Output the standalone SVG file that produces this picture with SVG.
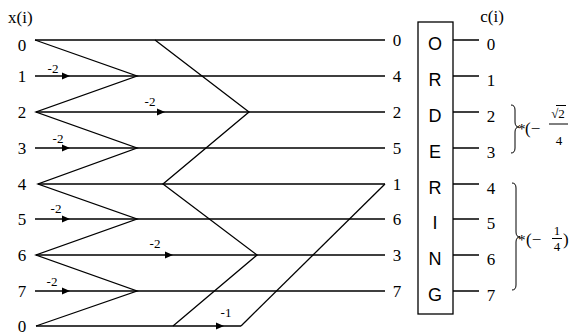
<svg xmlns="http://www.w3.org/2000/svg" width="574" height="335" viewBox="0 0 574 335">
<style>
.ln{fill:none;stroke:#000;stroke-width:1.3;stroke-linejoin:miter}
.t{font-family:"Liberation Serif","Times New Roman",serif;font-size:17px;fill:#000;text-anchor:middle}
.m{font-family:"Liberation Serif","Times New Roman",serif;font-size:17px;fill:#000}
.s{font-family:"Liberation Serif","Times New Roman",serif;font-size:13px;fill:#000;text-anchor:middle}
.a{font-family:"Liberation Serif","Times New Roman",serif;font-size:15px;fill:#000}
.f{font-family:"Liberation Serif","Times New Roman",serif;font-size:13px;fill:#000;text-anchor:middle}
.o{font-family:"Liberation Sans",Arial,sans-serif;font-size:18px;fill:#000;text-anchor:middle}
.br{fill:none;stroke:#000;stroke-width:1}
</style>
<defs>
<path id="ah" d="M0,0 L-8,-3.6 L-8,3.6 Z" fill="#000"/>
</defs>
<rect width="574" height="335" fill="#fff"/>
<g id="input-labels">
<text x="8" y="23" class="m">x(i)</text>
<text x="22" y="51" class="t">0</text>
<text x="22" y="82" class="t">1</text>
<text x="22" y="118" class="t">2</text>
<text x="22" y="154" class="t">3</text>
<text x="22" y="190" class="t">4</text>
<text x="22" y="225" class="t">5</text>
<text x="22" y="261" class="t">6</text>
<text x="22" y="297" class="t">7</text>
<text x="22" y="332" class="t">0</text>
</g>
<g id="connectors">
<path class="ln" d="M35,40 H385 M35,76 H385 M36,112 H385 M35,148 H385 M38,184 H385 M35,219 H385 M36,255 H385 M35,291 H385 M36,326 H241"/>
<path class="ln" d="M35,40 L137,76 L36,112 L137,148 L38,184 L137,219 L36,255 L137,291 L36,326"/>
<path class="ln" d="M155,40 L249,112 L163,184 L257,255 L173,326"/>
<path class="ln" d="M241,326 L385,184"/>
<use href="#ah" x="70" y="76"/>
<use href="#ah" x="165" y="112"/>
<use href="#ah" x="70" y="148"/>
<use href="#ah" x="70" y="219"/>
<use href="#ah" x="173" y="255"/>
<use href="#ah" x="70" y="291"/>
<use href="#ah" x="224" y="326"/>
<path class="ln" d="M453,40 H479 M453,76 H479 M453,112 H479 M453,148 H479 M453,184 H479 M453,219 H479 M453,255 H479 M453,291 H479"/>
</g>
<g id="weights">
<text x="53" y="73" class="s">-2</text>
<text x="150" y="106" class="s">-2</text>
<text x="58" y="143" class="s">-2</text>
<text x="56" y="213" class="s">-2</text>
<text x="155" y="248" class="s">-2</text>
<text x="52" y="286" class="s">-2</text>
<text x="226" y="317" class="s">-1</text>
</g>
<g id="stage-outputs">
<text x="397" y="46" class="t">0</text>
<text x="397" y="82" class="t">4</text>
<text x="397" y="118" class="t">2</text>
<text x="397" y="154" class="t">5</text>
<text x="397" y="190" class="t">1</text>
<text x="397" y="225" class="t">6</text>
<text x="397" y="261" class="t">3</text>
<text x="397" y="297" class="t">7</text>
</g>
<g id="ordering">
<rect x="418" y="22" width="35" height="292" fill="none" stroke="#000" stroke-width="1.3"/>
<text x="435" y="50" class="o">O</text>
<text x="435" y="86" class="o">R</text>
<text x="435" y="122" class="o">D</text>
<text x="435" y="158" class="o">E</text>
<text x="435" y="194" class="o">R</text>
<text x="435" y="229" class="o">I</text>
<text x="435" y="265" class="o">N</text>
<text x="435" y="301" class="o">G</text>
</g>
<g id="outputs">
<text x="492" y="22" class="t">c(i)</text>
<text x="491" y="50" class="t">0</text>
<text x="491" y="86" class="t">1</text>
<text x="491" y="122" class="t">2</text>
<text x="491" y="158" class="t">3</text>
<text x="491" y="194" class="t">4</text>
<text x="491" y="229" class="t">5</text>
<text x="491" y="265" class="t">6</text>
<text x="491" y="301" class="t">7</text>
</g>
<g id="scale-1">
<path class="br" d="M511,105 Q515,105 515,110 L515,122 Q515,127 519,127 Q515,127 515,132 L515,148 Q515,153 511,153"/>
<text x="518" y="134" class="a">*</text>
<text x="525" y="134" class="m">(−</text>
<text x="558" y="118" class="f">√2</text>
<path class="br" d="M556,105.5 H566"/>
<path class="br" d="M549,124 H568"/>
<text x="559" y="145" class="f">4</text>
</g>
<g id="scale-2">
<path class="br" d="M512,183 Q516,183 516,188 L516,232 Q516,237 520,237 Q516,237 516,242 L516,285 Q516,290 512,290"/>
<text x="518" y="245" class="a">*</text>
<text x="526" y="245" class="m">(−</text>
<text x="557" y="235" class="f">1</text>
<path class="br" d="M552,238.5 H562"/>
<text x="557" y="251" class="f">4</text>
<text x="563" y="245" class="m">)</text>
</g>
</svg>
